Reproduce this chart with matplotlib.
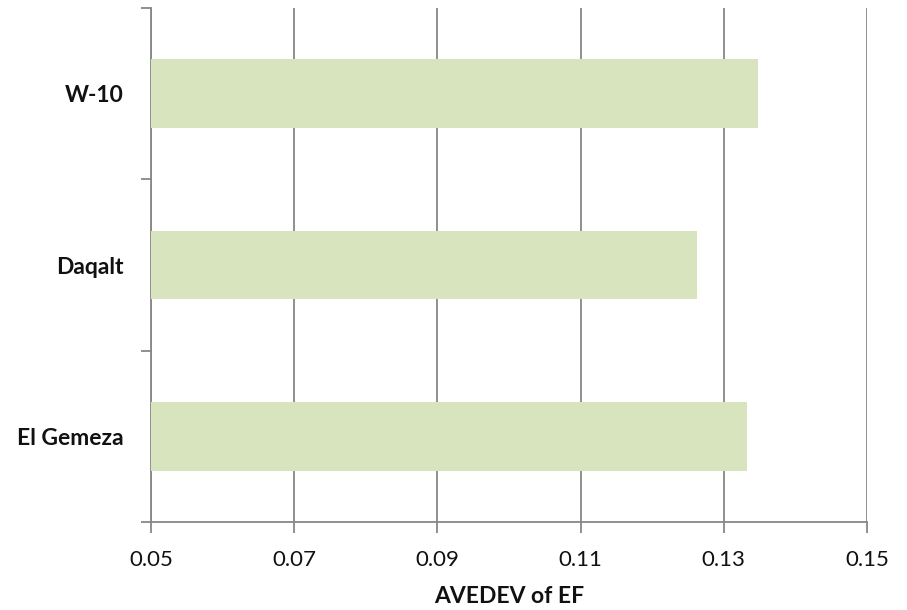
import matplotlib
matplotlib.use("Agg")
import matplotlib.pyplot as plt
import numpy as np

categories = ["El Gemeza", "Daqalt", "W-10"]
avedev_ef = [0.1332, 0.1263, 0.1348]
x_ticks = [0.05, 0.07, 0.09, 0.11, 0.13, 0.15]
x_tick_labels = ["0.05", "0.07", "0.09", "0.11", "0.13", "0.15"]

plt.rcParams["font.family"] = ["Lato", "DejaVu Sans"]

fig = plt.figure(figsize=(9.07, 6.10), dpi=100)
ax = fig.add_axes([151 / 907, 1 - 522 / 610, (867 - 151) / 907, (522 - 8) / 610])

grid_color = "#878787"
bar_color = "#d7e4bd"
text_color = "#111111"

y = np.arange(len(categories))
ax.barh(y, [v - 0.05 for v in avedev_ef], left=0.05, height=0.4,
        color=bar_color, zorder=3)

ax.set_xlim(0.05, 0.15)
ax.set_ylim(-0.5, len(categories) - 0.5)
ax.set_xticks(x_ticks)
ax.set_xticklabels(x_tick_labels, fontsize=16, color=text_color)
ax.xaxis.grid(True, color=grid_color, linewidth=1.3, zorder=0)

ax.set_yticks(y)
ax.set_yticklabels(categories, fontsize=16.5, fontweight="bold", color=text_color)
ax.tick_params(axis="y", length=0, pad=19.5)
# category separators as outward minor ticks
ax.set_yticks(np.arange(-0.5, len(categories), 1.0), minor=True)
ax.tick_params(axis="y", which="minor", length=7, width=1.3, color=grid_color)
ax.tick_params(axis="x", length=8, width=1.3, color=grid_color, pad=12)

for side in ("top", "right"):
    ax.spines[side].set_visible(False)
for side in ("left", "bottom"):
    ax.spines[side].set_color(grid_color)
    ax.spines[side].set_linewidth(1.3)

ax.set_xlabel("AVEDEV of EF", fontsize=16.5, fontweight="bold", color=text_color, labelpad=12)

fig.savefig("out.png", dpi=100)
